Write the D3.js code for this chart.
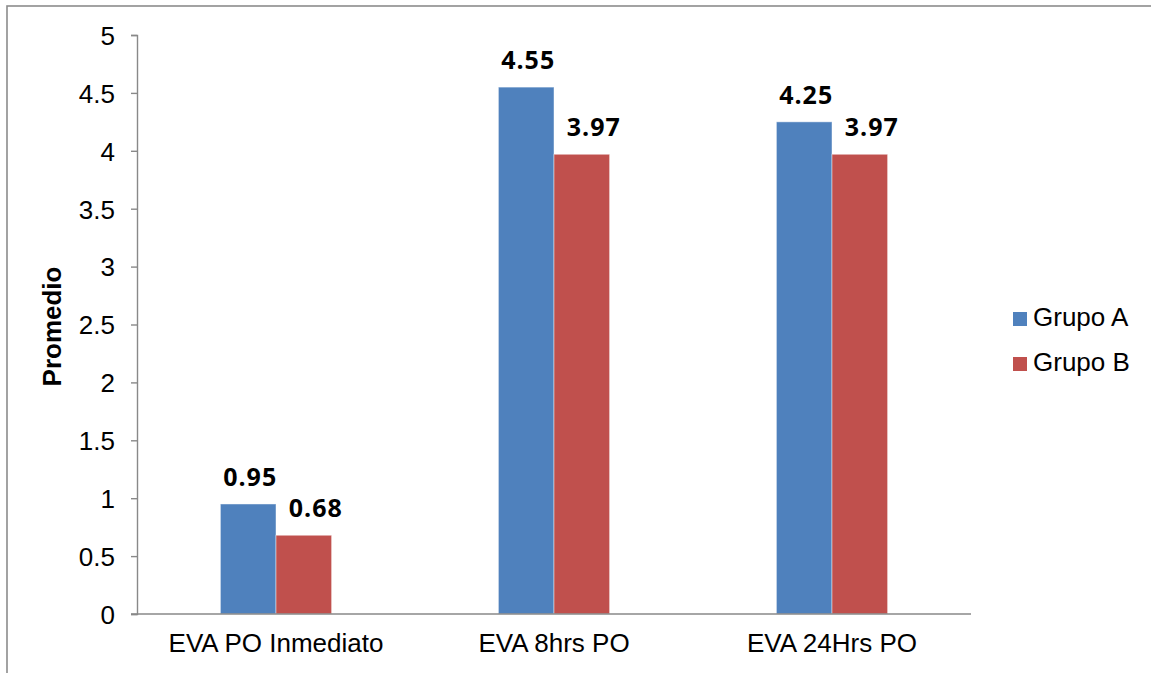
<!DOCTYPE html>
<html>
<head>
<meta charset="utf-8">
<script src="https://cdn.jsdelivr.net/npm/d3@7"></script>
<style>
  html, body { margin: 0; padding: 0; background: #fff; }
  svg { display: block; }
</style>
</head>
<body>
<svg id="chart" width="1151" height="673"></svg>
<script>
// Pain score (EVA) averages per post-operative moment, two study groups
const categories = ["EVA PO Inmediato", "EVA 8hrs PO", "EVA 24Hrs PO"];
const seriesNames = ["Grupo A", "Grupo B"];
const grupoA = [0.95, 4.55, 4.25];
const grupoB = [0.68, 3.97, 3.97];
const yTicks = [0, 0.5, 1, 1.5, 2, 2.5, 3, 3.5, 4, 4.5, 5];
const colors = ["#4F81BD", "#C0504D"];

const svg = d3.select("#chart");
const W = 1151, H = 673;

// outer chart frame (left and top edges visible)
svg.append("rect")
  .attr("x", 7).attr("y", 6)
  .attr("width", W + 20).attr("height", H + 20)
  .attr("fill", "none")
  .attr("stroke", "#8c8c8c")
  .attr("stroke-width", 1.6);

const plot = { left: 137, right: 971, top: 35, bottom: 614 };

const x = d3.scaleBand()
  .domain(categories)
  .range([plot.left, plot.right])
  .padding(0);

const xSeries = d3.scaleBand()
  .domain(seriesNames)
  .range([x.bandwidth() * 0.3, x.bandwidth() * 0.7])
  .padding(0);

const y = d3.scaleLinear()
  .domain([0, 5])
  .range([plot.bottom, plot.top]);

const axisColor = "#898989";
const fontReg = "Arial, 'Liberation Sans', sans-serif";

// y axis
const yAxis = svg.append("g")
  .attr("transform", `translate(${plot.left},0)`)
  .call(d3.axisLeft(y).tickValues(yTicks).tickSize(6).tickPadding(16)
    .tickFormat(d => String(d)));
yAxis.select(".domain").attr("stroke", axisColor).attr("stroke-width", 1.4);
yAxis.selectAll(".tick line").attr("stroke", axisColor).attr("stroke-width", 1.4);
yAxis.selectAll(".tick text")
  .attr("fill", "#000")
  .style("font-family", fontReg)
  .style("font-size", "26px")
  .attr("dy", "0.36em");

// bars
const rows = categories.map((c, i) => ({ cat: c, values: [grupoA[i], grupoB[i]] }));

const groups = svg.append("g").selectAll("g")
  .data(rows)
  .join("g")
  .attr("transform", d => `translate(${x(d.cat)},0)`);

groups.selectAll("rect")
  .data(d => d.values.map((v, j) => ({ v, s: seriesNames[j], j })))
  .join("rect")
  .attr("x", d => xSeries(d.s))
  .attr("y", d => y(d.v))
  .attr("width", xSeries.bandwidth())
  .attr("height", d => y(0) - y(d.v))
  .attr("fill", d => colors[d.j])
  .attr("stroke", "rgba(255,255,255,0.45)")
  .attr("stroke-width", 1);

// value labels
groups.selectAll("text.val")
  .data(d => d.values.map((v, j) => ({ v, s: seriesNames[j], j })))
  .join("text")
  .attr("class", "val")
  .attr("x", d => xSeries(d.s) + xSeries.bandwidth() / 2 + (d.j === 0 ? 2 : 12))
  .attr("y", d => y(d.v) - 18)
  .attr("text-anchor", "middle")
  .style("font-family", "'Open Sans', sans-serif")
  .style("font-weight", "bold")
  .style("font-size", "25px")
  .style("letter-spacing", "1px")
  .attr("fill", "#000")
  .text(d => d.v.toFixed(2));

// x axis
const xAxis = svg.append("g")
  .attr("transform", `translate(0,${plot.bottom})`)
  .call(d3.axisBottom(x).tickSize(0).tickPadding(20));
xAxis.select(".domain").attr("stroke", axisColor).attr("stroke-width", 1.6)
  .attr("d", `M${plot.left - 6},0H${plot.right}`);
xAxis.selectAll(".tick text")
  .attr("fill", "#000")
  .style("font-family", fontReg)
  .style("font-size", "26px")
  .attr("dy", "0.71em");

// y axis title
svg.append("text")
  .attr("transform", `translate(61,${(plot.top + plot.bottom) / 2 + 2}) rotate(-90)`)
  .attr("text-anchor", "middle")
  .style("font-family", fontReg)
  .style("font-weight", "bold")
  .style("font-size", "26px")
  .attr("fill", "#000")
  .text("Promedio");

// legend
const legend = svg.append("g").attr("transform", "translate(1013,312)");
const li = legend.selectAll("g")
  .data(seriesNames)
  .join("g")
  .attr("transform", (d, i) => `translate(0,${i * 45})`);
li.append("rect")
  .attr("width", 14).attr("height", 14)
  .attr("fill", (d, i) => colors[i]);
li.append("text")
  .attr("x", 20).attr("y", 14)
  .style("font-family", fontReg)
  .style("font-size", "26px")
  .attr("fill", "#000")
  .text(d => d);
</script>
</body>
</html>
